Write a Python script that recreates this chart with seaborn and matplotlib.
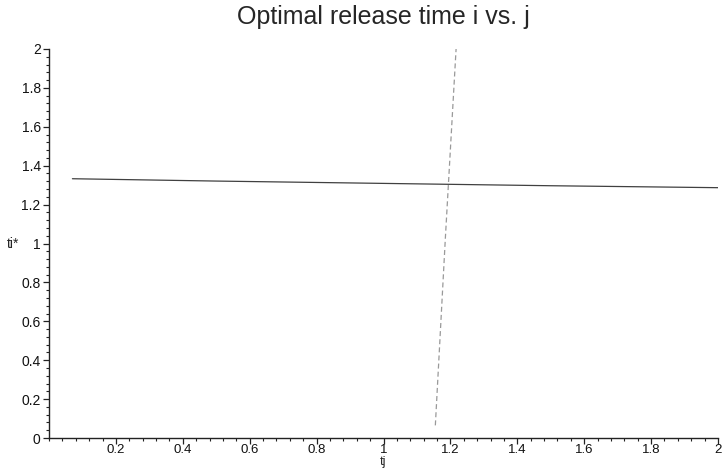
import matplotlib
matplotlib.use("Agg")
import matplotlib.pyplot as plt
import seaborn as sns
import pandas as pd
import numpy as np
from matplotlib.ticker import MultipleLocator

# Data
solid_x = [0.07, 0.5, 1.0, 1.5, 2.0]
solid_y = [1.333, 1.321, 1.309, 1.297, 1.287]
dashed_x = [1.155, 1.185, 1.217]
dashed_y = [0.065, 1.03, 2.0]
x_ticks = [0.2, 0.4, 0.6, 0.8, 1.0, 1.2, 1.4, 1.6, 1.8, 2.0]
x_tick_labels = ["0.2", "0.4", "0.6", "0.8", "1", "1.2", "1.4", "1.6", "1.8", "2"]
y_ticks = [0, 0.2, 0.4, 0.6, 0.8, 1.0, 1.2, 1.4, 1.6, 1.8, 2.0]
y_tick_labels = ["0", "0.2", "0.4", "0.6", "0.8", "1", "1.2", "1.4", "1.6", "1.8", "2"]
title = "Optimal release time i vs. j"

sns.set_style("white")
plt.rcParams["font.family"] = ["Liberation Sans", "DejaVu Sans"]

fig = plt.figure(figsize=(7.23, 4.70), dpi=100)
ax = fig.add_axes([49/723, 32/470, 669/723, 389/470])

df_s = pd.DataFrame({"x": solid_x, "y": solid_y})
df_d = pd.DataFrame({"x": dashed_x, "y": dashed_y})
sns.lineplot(data=df_s, x="x", y="y", ax=ax, sort=False, estimator=None,
             color="#404040", linewidth=0.9)
sns.lineplot(data=df_d, x="x", y="y", ax=ax, sort=False, estimator=None,
             color="#999999", linewidth=0.9, linestyle=(0, (4, 2.5)))

ax.set_xlim(0, 2)
ax.set_ylim(0, 2)
ax.set_xticks(x_ticks)
ax.set_xticklabels(x_tick_labels)
ax.set_yticks(y_ticks)
ax.set_yticklabels(y_tick_labels)
ax.xaxis.set_minor_locator(MultipleLocator(0.04))
ax.yaxis.set_minor_locator(MultipleLocator(0.04))

for s in ["top", "right"]:
    ax.spines[s].set_visible(False)
for s in ["left", "bottom"]:
    ax.spines[s].set_color("#222222")
    ax.spines[s].set_linewidth(1.0)

ax.tick_params(axis="both", which="major", length=4, width=0.9, color="#222222",
               labelsize=10, labelcolor="#111111", direction="out", pad=2)
ax.tick_params(axis="x", which="major", pad=0, labelsize=9.5)
ax.tick_params(axis="both", which="minor", length=2.5, width=0.8, color="#222222",
               direction="out")
ax.tick_params(axis="both", which="both", bottom=True, left=True)

ax.set_xlabel("tj", fontsize=9, labelpad=0)
ax.set_ylabel("ti*", fontsize=10, rotation=0, labelpad=6, va="center")
ax.set_title(title, fontsize=18, pad=18)

fig.savefig("out.png", dpi=100)
